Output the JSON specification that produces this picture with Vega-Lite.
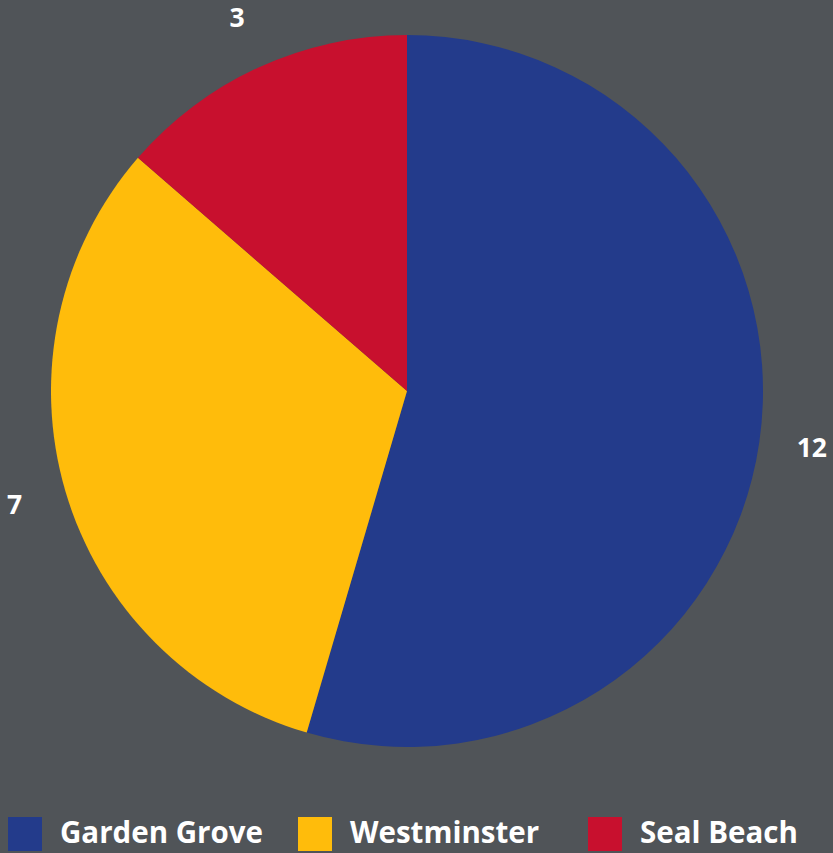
{
  "$schema": "https://vega.github.io/schema/vega-lite/v6.json",
  "width": 814,
  "height": 782,
  "autosize": "none",
  "padding": {"left": 0, "top": 0, "right": 19, "bottom": 71},
  "background": "#505458",
  "config": {"view": {"stroke": null}},
  "data": {"values": [
    {"city": "Garden Grove", "value": 12, "order": 1},
    {"city": "Westminster", "value": 7, "order": 2},
    {"city": "Seal Beach", "value": 3, "order": 3}
  ]},
  "encoding": {
    "theta": {"field": "value", "type": "quantitative", "stack": true},
    "order": {"field": "order", "type": "quantitative"},
    "color": {
      "field": "city", "type": "nominal",
      "scale": {"domain": ["Garden Grove", "Westminster", "Seal Beach"], "range": ["#233b8b", "#ffbc0b", "#c8102e"]},
      "legend": {
        "title": null, "orient": "none", "legendX": 8, "legendY": 817,
        "direction": "horizontal", "columns": 3, "gridAlign": "all",
        "symbolType": "square", "symbolSize": 1156, "symbolStrokeWidth": 0, "symbolOpacity": 1,
        "labelFont": "Open Sans", "labelFontSize": 29.5, "labelFontWeight": "bold", "labelColor": "#ffffff",
        "labelOffset": 18, "columnPadding": 35, "labelLimit": 400
      }
    }
  },
  "layer": [
    {"mark": {"type": "arc", "outerRadius": 356}},
    {"mark": {"type": "text", "radius": 409, "font": "Open Sans", "fontSize": 26.5, "fontWeight": "bold", "fill": "#ffffff"},
     "encoding": {"text": {"field": "value", "type": "quantitative"}, "color": {"value": "#ffffff"}}}
  ]
}
